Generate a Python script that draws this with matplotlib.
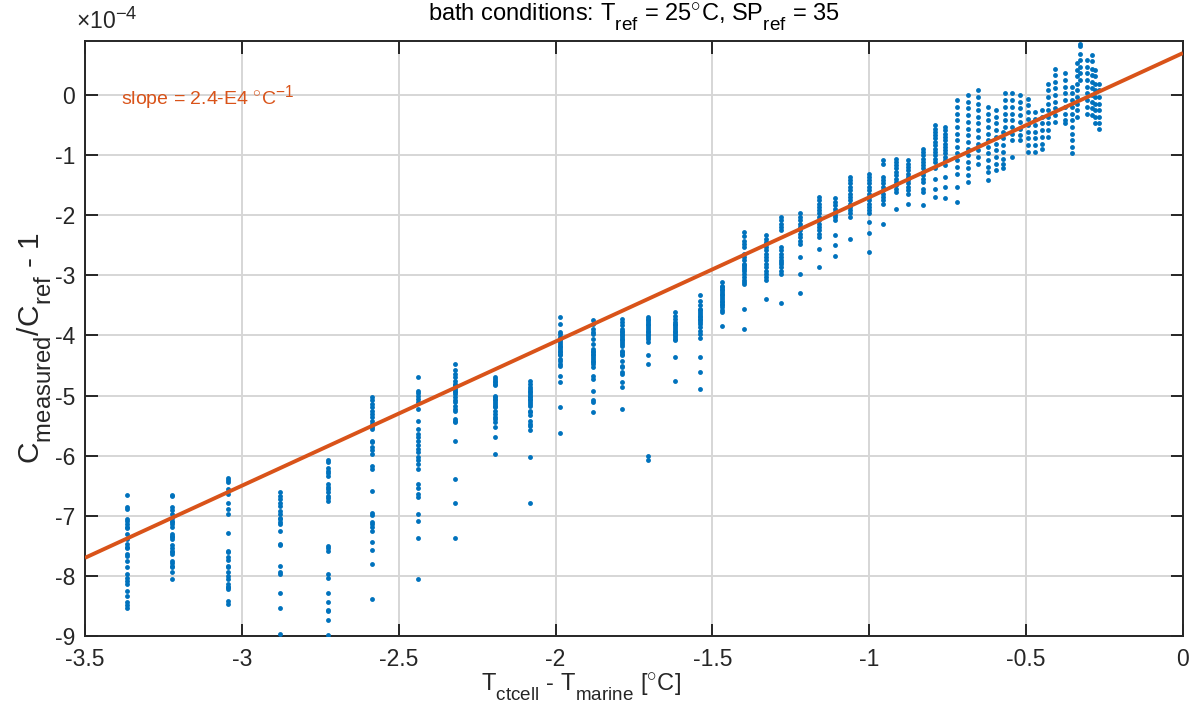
import matplotlib
matplotlib.use("Agg")
import matplotlib.pyplot as plt
import matplotlib._mathtext as _mt
import numpy as np

# MATLAB-like larger, lower sub/superscripts
_mt.SHRINK_FACTOR = 0.8
_mt.FontConstantsBase.sub1 = 0.75
_mt.FontConstantsBase.sub2 = 0.75

plt.rcParams['font.family'] = ['Liberation Sans', 'DejaVu Sans']
plt.rcParams['mathtext.fontset'] = 'custom'
plt.rcParams['mathtext.rm'] = 'Liberation Sans'
plt.rcParams['mathtext.it'] = 'Liberation Sans'
plt.rcParams['mathtext.bf'] = 'Liberation Sans:bold'

# ---- data (y in units of 1e-4) ----
cluster_x = [-3.367, -3.224, -3.044, -2.878, -2.725, -2.585, -2.440, -2.320, -2.193, -2.082,
             -1.986, -1.880, -1.788, -1.705, -1.619, -1.540, -1.469, -1.400, -1.330, -1.280,
             -1.220, -1.160, -1.110, -1.060, -1.000, -0.955, -0.915, -0.875, -0.830, -0.790,
             -0.760, -0.720, -0.685, -0.653, -0.620, -0.596, -0.574, -0.568, -0.545, -0.520,
             -0.494, -0.472, -0.450, -0.430, -0.408, -0.376, -0.354, -0.338, -0.328, -0.306,
             -0.290, -0.280, -0.268]

y_c01 = [-6.65, -6.86, -6.89, -7.06, -7.08, -7.14, -7.18, -7.21, -7.31, -7.39, -7.47, -7.52, -7.53,
         -7.63, -7.67, -7.75, -7.86, -7.97, -8.03, -8.08, -8.13, -8.25, -8.33, -8.44, -8.48, -8.53]
y_c02 = [-6.65, -6.67, -6.86, -6.90, -6.97, -7.03, -7.08, -7.11, -7.14, -7.19, -7.31, -7.33, -7.36,
         -7.39, -7.48, -7.53, -7.59, -7.61, -7.63, -7.75, -7.78, -7.84, -7.86, -7.94, -8.06]
y_c03 = [-6.37, -6.41, -6.44, -6.56, -6.63, -6.78, -6.89, -6.97, -7.28, -7.58, -7.61, -7.69, -7.74,
         -7.83, -7.86, -7.94, -8.00, -8.06, -8.14, -8.19, -8.19, -8.22, -8.42, -8.47]
y_c04 = [-6.61, -6.67, -6.72, -6.78, -6.83, -6.92, -6.97, -7.03, -7.06, -7.11, -7.14, -7.25, -7.47,
         -7.48, -7.83, -7.94, -7.97, -8.28, -8.53, -8.97]
y_c05 = [-6.07, -6.11, -6.21, -6.25, -6.29, -6.33, -6.47, -6.52, -6.56, -6.61, -6.67, -6.71, -6.75,
         -7.50, -7.53, -7.59, -7.97, -8.03, -8.28, -8.44, -8.57, -8.59, -8.74, -8.99]
y_c06 = [-5.03, -5.08, -5.14, -5.19, -5.25, -5.31, -5.36, -5.42, -5.47, -5.53, -5.56, -5.75, -5.78,
         -5.86, -5.91, -5.98, -6.17, -6.22, -6.58, -6.96, -6.98, -7.11, -7.14, -7.19, -7.25, -7.43,
         -7.57, -7.81, -8.39]
y_c07 = [-4.69, -4.93, -4.96, -5.00, -5.06, -5.11, -5.22, -5.42, -5.56, -5.64, -5.69, -5.75, -5.83,
         -5.89, -5.94, -6.03, -6.08, -6.14, -6.22, -6.47, -6.53, -6.64, -6.69, -6.97, -7.09, -7.37,
         -8.05]
y_c08 = [-4.47, -4.58, -4.64, -4.69, -4.75, -4.81, -4.83, -4.86, -4.89, -4.92, -4.94, -4.97, -5.03,
         -5.08, -5.11, -5.17, -5.22, -5.25, -5.39, -5.42, -5.44, -5.76, -6.39, -6.78, -7.37]
y_c09 = [-4.69, -4.72, -4.75, -4.78, -4.81, -4.83, -5.00, -5.03, -5.06, -5.08, -5.11, -5.14, -5.17,
         -5.19, -5.25, -5.31, -5.36, -5.39, -5.44, -5.53, -5.69, -5.98]
y_c10 = [-4.75, -4.81, -4.86, -4.89, -4.92, -4.94, -4.97, -5.00, -5.03, -5.06, -5.08, -5.11, -5.14,
         -5.17, -5.25, -5.28, -5.33, -5.42, -5.47, -5.50, -5.58, -6.03, -6.78]
y_c11 = [-3.69, -3.81, -3.94, -3.97, -4.03, -4.06, -4.08, -4.11, -4.14, -4.17, -4.19, -4.22, -4.25,
         -4.28, -4.31, -4.33, -4.39, -4.42, -4.47, -4.50, -4.67, -4.77, -5.19, -5.63]
y_c12 = [-3.75, -3.81, -3.89, -3.94, -3.97, -4.06, -4.14, -4.22, -4.25, -4.28, -4.31, -4.33, -4.36,
         -4.39, -4.42, -4.44, -4.47, -4.53, -4.67, -4.72, -4.92, -5.08, -5.11, -5.28]
y_c13 = [-3.72, -3.78, -3.83, -3.89, -3.92, -3.94, -3.97, -4.00, -4.03, -4.06, -4.08, -4.11, -4.14,
         -4.17, -4.25, -4.28, -4.31, -4.33, -4.42, -4.50, -4.53, -4.61, -4.64, -4.78, -4.86, -5.22]
y_c14 = [-3.69, -3.72, -3.75, -3.78, -3.81, -3.83, -3.86, -3.89, -3.92, -3.94, -3.97, -4.00, -4.03,
         -4.06, -4.11, -4.33, -4.47, -6.00, -6.08]
y_c15 = [-3.61, -3.67, -3.72, -3.78, -3.81, -3.83, -3.86, -3.89, -3.92, -3.94, -3.97, -4.00, -4.03,
         -4.06, -4.08, -4.35, -4.76]
y_c16 = [-3.33, -3.42, -3.50, -3.56, -3.58, -3.61, -3.64, -3.67, -3.69, -3.72, -3.75, -3.78, -3.81,
         -3.86, -3.92, -3.97, -4.04, -4.35, -4.61, -4.89]
y_c17 = [-3.11, -3.17, -3.19, -3.22, -3.25, -3.28, -3.31, -3.33, -3.36, -3.39, -3.42, -3.44, -3.47,
         -3.50, -3.53, -3.58, -3.61, -3.85]
y_c18 = [-2.28, -2.35, -2.42, -2.48, -2.53, -2.64, -2.69, -2.75, -2.81, -2.83, -2.86, -2.89, -2.92,
         -2.97, -3.03, -3.08, -3.11, -3.14, -3.56, -3.90]
y_c19 = [-2.33, -2.39, -2.44, -2.47, -2.53, -2.58, -2.64, -2.69, -2.75, -2.81, -2.86, -2.92, -2.97,
         -3.03, -3.08, -3.39]
y_c20 = [-2.03, -2.08, -2.14, -2.19, -2.25, -2.53, -2.58, -2.64, -2.69, -2.75, -2.78, -2.81, -2.86,
         -2.92, -2.97, -3.46]
y_c21 = [-1.97, -2.03, -2.08, -2.14, -2.19, -2.25, -2.31, -2.36, -2.42, -2.47, -2.69, -2.97, -3.29]
y_c22 = [-1.69, -1.75, -1.81, -1.86, -1.92, -1.97, -2.03, -2.08, -2.14, -2.19, -2.25, -2.31, -2.36,
         -2.56, -2.86]
y_c23 = [-1.72, -1.78, -1.83, -1.89, -1.94, -2.00, -2.03, -2.08, -2.33, -2.50, -2.67]
y_c24 = [-1.36, -1.42, -1.47, -1.53, -1.58, -1.64, -1.69, -1.75, -1.81, -1.86, -1.92, -1.97, -2.03,
         -2.39]
y_c25 = [-1.31, -1.36, -1.42, -1.47, -1.53, -1.58, -1.64, -1.69, -1.75, -1.81, -1.86, -1.92, -1.97,
         -2.11, -2.29, -2.61]
y_c26 = [-1.08, -1.14, -1.36, -1.42, -1.47, -1.53, -1.58, -1.64, -1.69, -1.75, -1.81, -2.15]
y_c27 = [-1.06, -1.11, -1.17, -1.22, -1.28, -1.33, -1.39, -1.44, -1.50, -1.56, -1.61, -1.90]
y_c28 = [-1.08, -1.14, -1.19, -1.25, -1.31, -1.36, -1.42, -1.47, -1.53, -1.58, -1.64, -1.82]
y_c29 = [-0.89, -0.94, -1.00, -1.06, -1.11, -1.17, -1.22, -1.28, -1.33, -1.39, -1.44, -1.56, -1.61,
         -1.83]
y_c30 = [-0.50, -0.56, -0.61, -0.67, -0.72, -0.78, -0.83, -0.89, -0.94, -1.00, -1.06, -1.11, -1.22,
         -1.39, -1.56, -1.69]
y_c31 = [-0.53, -0.58, -0.64, -0.69, -0.75, -0.81, -0.86, -0.92, -0.97, -1.03, -1.08, -1.17, -1.36,
         -1.53, -1.71]
y_c32 = [-0.08, -0.19, -0.31, -0.42, -0.53, -0.64, -0.75, -0.86, -0.97, -1.08, -1.19, -1.31, -1.53,
         -1.78]
y_c33 = [0.00, -0.11, -0.22, -0.33, -0.44, -0.56, -0.67, -0.78, -0.89, -1.00, -1.11, -1.22, -1.33,
         -1.44]
y_c34 = [0.08, -0.03, -0.14, -0.25, -0.36, -0.47, -0.58, -0.69, -0.81, -0.92, -1.03, -1.14]
y_c35 = [-0.19, -0.31, -0.42, -0.53, -0.64, -0.75, -0.86, -0.97, -1.08, -1.19, -1.28, -1.42]
y_c36 = [-0.25, -0.36, -0.47, -0.58, -0.69, -0.81, -0.92, -1.03, -1.14, -1.25]
y_c37 = [-0.61, -0.72, -0.83, -0.94, -1.06, -1.14, -1.22]
y_c38 = [0.03, -0.08, -0.19, -0.31, -0.42, -0.53]
y_c39 = [0.03, -0.08, -0.19, -0.31, -0.42, -0.53, -0.64, -0.75, -1.03]
y_c40 = [0.00, -0.11, -0.22, -0.33, -0.44, -0.56, -0.67, -0.74]
y_c41 = [-0.06, -0.17, -0.28, -0.39, -0.50, -0.61, -0.72, -0.83, -0.94]
y_c42 = [-0.28, -0.39, -0.50, -0.61, -0.72, -0.83, -0.94]
y_c43 = [-0.25, -0.36, -0.47, -0.58, -0.69, -0.81, -0.89]
y_c44 = [0.19, 0.08, -0.03, -0.14, -0.25, -0.36, -0.47, -0.58, -0.69]
y_c45 = [0.44, 0.33, 0.22, 0.11, 0.00, -0.11, -0.22, -0.33, -0.44]
y_c46 = [0.36, 0.25, 0.14, 0.03, -0.08, -0.19, -0.31, -0.42, -0.47]
y_c47 = [0.14, 0.03, -0.08, -0.19, -0.31, -0.42, -0.53, -0.64, -0.75, -0.86, -0.97]
y_c48 = [0.53, 0.42, 0.31, 0.19, 0.08, -0.03, -0.14, -0.25, -0.36]
y_c49 = [0.85, 0.81, 0.69, 0.58, 0.47, 0.36, 0.25]
y_c50 = [0.58, 0.47, 0.36, 0.25, 0.14, 0.03, -0.08, -0.19, -0.31]
y_c51 = [0.67, 0.56, 0.44, 0.33, 0.22, 0.11, 0.00, -0.11, -0.22, -0.33]
y_c52 = [0.42, 0.31, 0.19, 0.08, -0.03, -0.14, -0.25, -0.36, -0.47]
y_c53 = [0.19, 0.08, -0.03, -0.14, -0.25, -0.36, -0.47, -0.56]

cluster_y = [y_c01, y_c02, y_c03, y_c04, y_c05, y_c06, y_c07, y_c08, y_c09, y_c10,
             y_c11, y_c12, y_c13, y_c14, y_c15, y_c16, y_c17, y_c18, y_c19, y_c20,
             y_c21, y_c22, y_c23, y_c24, y_c25, y_c26, y_c27, y_c28, y_c29, y_c30,
             y_c31, y_c32, y_c33, y_c34, y_c35, y_c36, y_c37, y_c38, y_c39, y_c40,
             y_c41, y_c42, y_c43, y_c44, y_c45, y_c46, y_c47, y_c48, y_c49, y_c50,
             y_c51, y_c52, y_c53]

fit_slope = 2.4       # 1e-4 per degC
fit_intercept = 0.7   # 1e-4
fit_x = [-3.5, 0.0]

x_ticks = [-3.5, -3, -2.5, -2, -1.5, -1, -0.5, 0]
x_ticklabels = ['-3.5', '-3', '-2.5', '-2', '-1.5', '-1', '-0.5', '0']
y_ticks = [-9, -8, -7, -6, -5, -4, -3, -2, -1, 0]

# ---- plot ----
blue = '#0072BD'
orange = '#D95319'
axcol = '#262626'
fs = 16.5

fig = plt.figure(figsize=(11.9, 7.06), dpi=100)
ax = fig.add_axes([0.0714, 0.0992, 0.9227, 0.8427])

xs, ys = [], []
for cx, cy in zip(cluster_x, cluster_y):
    xs.extend([cx] * len(cy))
    ys.extend(cy)
ax.plot(xs, ys, linestyle='none', marker='o', markersize=3.5, color=blue,
        markeredgewidth=0, zorder=3)

fy = [fit_slope * v + fit_intercept for v in fit_x]
ax.plot(fit_x, fy, color=orange, linewidth=2.8, zorder=4, solid_capstyle='butt')

ax.set_xlim(-3.5, 0)
ax.set_ylim(-9, 0.9)
ax.set_xticks(x_ticks)
ax.set_xticklabels(x_ticklabels)
ax.set_yticks(y_ticks)
ax.set_yticklabels([str(t) for t in y_ticks])

ax.grid(True, color='#d6d6d6', linewidth=1.4, zorder=0)
ax.set_axisbelow(True)
ax.tick_params(direction='in', length=9, width=1.4, colors=axcol, labelsize=fs,
               top=True, right=True)
ax.tick_params(axis='x', pad=9)
ax.tick_params(axis='y', pad=7)
for sp in ax.spines.values():
    sp.set_color(axcol)
    sp.set_linewidth(1.4)

ax.set_xlabel(r'T$_{\rm ctcell}$ - T$_{\rm marine}$ [$^{\circ}$C]', fontsize=17, color=axcol,
              labelpad=0)
ax.xaxis.label.set_x(0.452)
ax.set_ylabel(r'C$_{\rm measured}$/C$_{\rm ref}$ - 1', fontsize=21.5, color=axcol, labelpad=1)
ax.yaxis.label.set_y(0.484)
ax.set_title(r'bath conditions: T$_{\rm ref}$ = 25$^{\circ}$C, SP$_{\rm ref}$ = 35',
             fontsize=17, color='black', pad=14)

ax.text(-0.008, 1.012, r'$\times$10$^{-4}$', transform=ax.transAxes, fontsize=fs,
        color=axcol, ha='left', va='bottom')
ax.text(0.033, 0.905, r'slope = 2.4-E4 $^{\circ}$C$^{-1}$', transform=ax.transAxes,
        fontsize=14, color=orange, ha='left', va='center')

fig.savefig('out.png', dpi=100)
